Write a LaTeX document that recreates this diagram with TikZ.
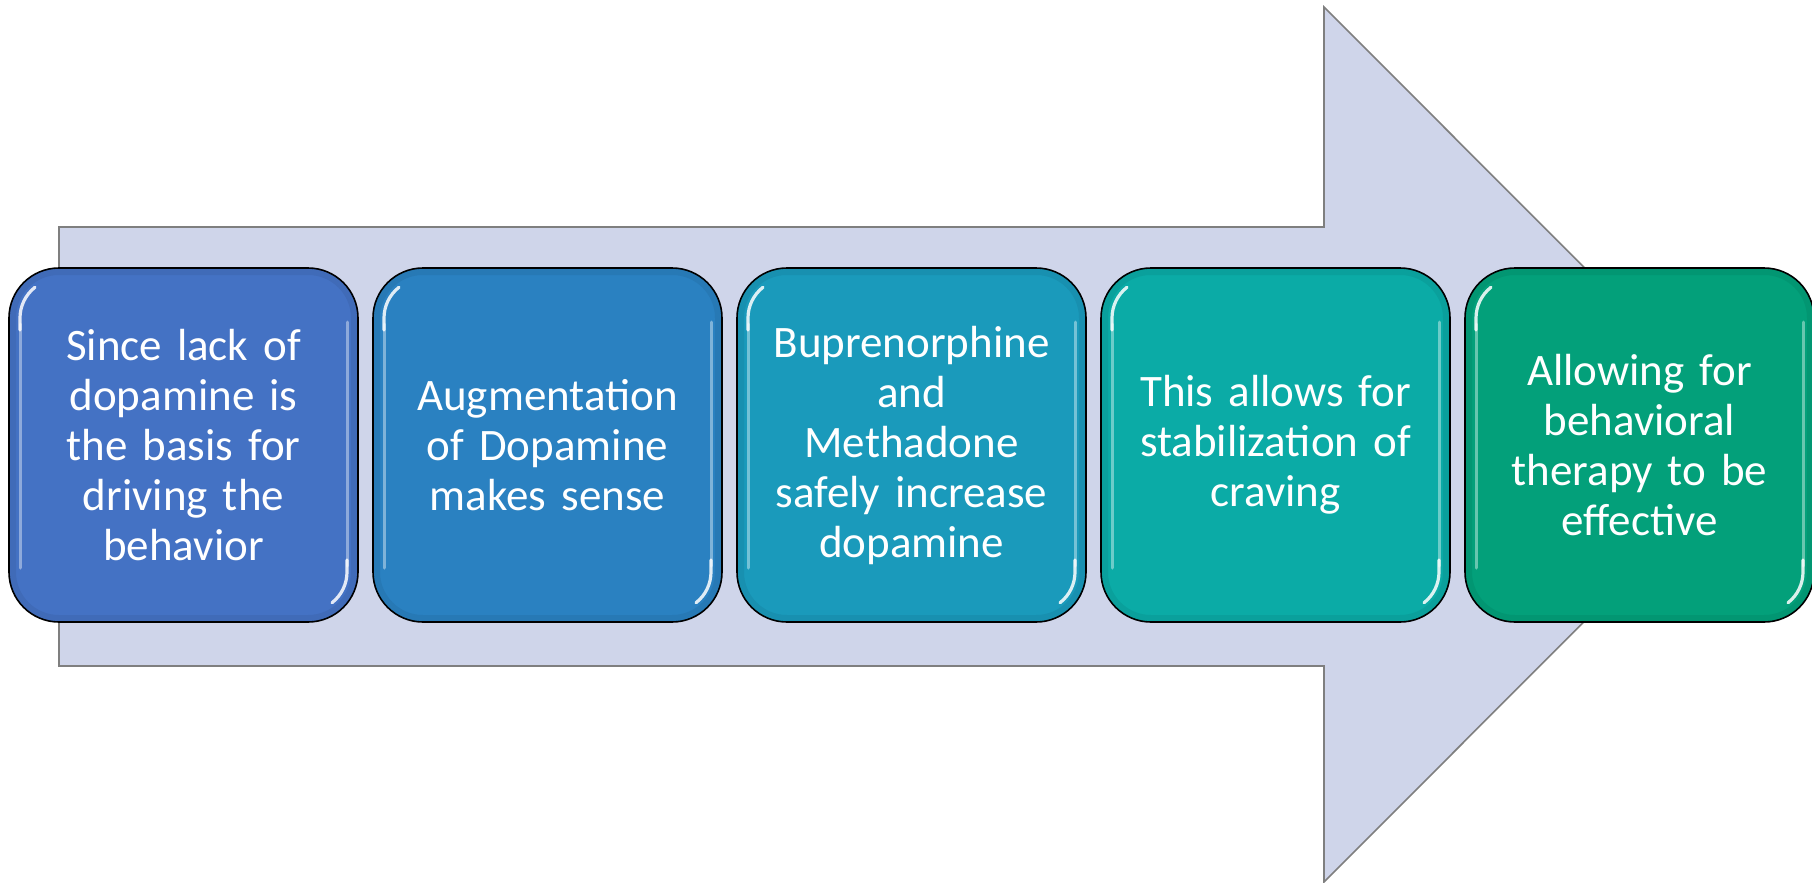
\documentclass[tikz,border=0pt]{standalone}
\usepackage{fontspec}
\setmainfont{Carlito}
\definecolor{arrowfill}{HTML}{CFD5EA}
\definecolor{arrowline}{HTML}{7F7F7F}
\definecolor{cA}{HTML}{4472C4}
\definecolor{cB}{HTML}{2A81C1}
\definecolor{cC}{HTML}{1A9ABB}
\definecolor{cD}{HTML}{0BABA6}
\definecolor{cE}{HTML}{03A07A}
\tikzset{
  stepbox/.style={rectangle, rounded corners=50pt, draw=black, line width=1.6pt,
    minimum width=349pt, minimum height=354pt, inner sep=0pt, outer sep=0pt,
    text=white, align=center, text width=300pt,
    font=\fontsize{45pt}{50pt}\selectfont},
  gloss/.style={draw=white, line width=3pt, line cap=round, opacity=0.4},
  shine/.style={draw=white, line width=3.2pt, line cap=round, opacity=0.85},
}
\begin{document}
\begin{tikzpicture}[x=1pt, y=-1pt]
\useasboundingbox (0,0) rectangle (1812,883);
% big background arrow
\draw[fill=arrowfill, draw=arrowline, line width=1.6pt, line join=miter]
  (59,227) -- (1324,227) -- (1324,7) -- (1761,444.5) -- (1324,882) -- (1324,666) -- (59,666) -- cycle;
% five steps
\foreach \i/\c/\t in {
  1/cA/{Since lack of\\dopamine is\\the basis for\\driving the\\behavior},
  2/cB/{Augmentation\\of Dopamine\\makes sense},
  3/cC/{Buprenorphine\\and\\Methadone\\safely increase\\dopamine},
  4/cD/{This allows for\\stabilization of\\craving},
  5/cE/{Allowing for\\behavioral\\therapy to be\\effective}} {
  \node[stepbox, fill=\c] (b\i) at ({183.5+364*(\i-1)},445) {\t};
  \begin{scope}[shift={(b\i.north west)}]
    % faint inner bevel
    \draw[draw=black, opacity=0.06, line width=6pt, rounded corners=46pt]
      (4,4) rectangle (345,350);
    % glossy edge highlights
    \draw[gloss] (11,56) -- (11,300);
    \draw[gloss] (338,54) -- (338,298);
    \draw[shine] (11,62) -- (11,50) arc[start angle=180, end angle=128, radius=39pt];
    \draw[shine] (338,292) -- (338,304) arc[start angle=0, end angle=-52, radius=39pt];
  \end{scope}
}
\end{tikzpicture}
\end{document}
